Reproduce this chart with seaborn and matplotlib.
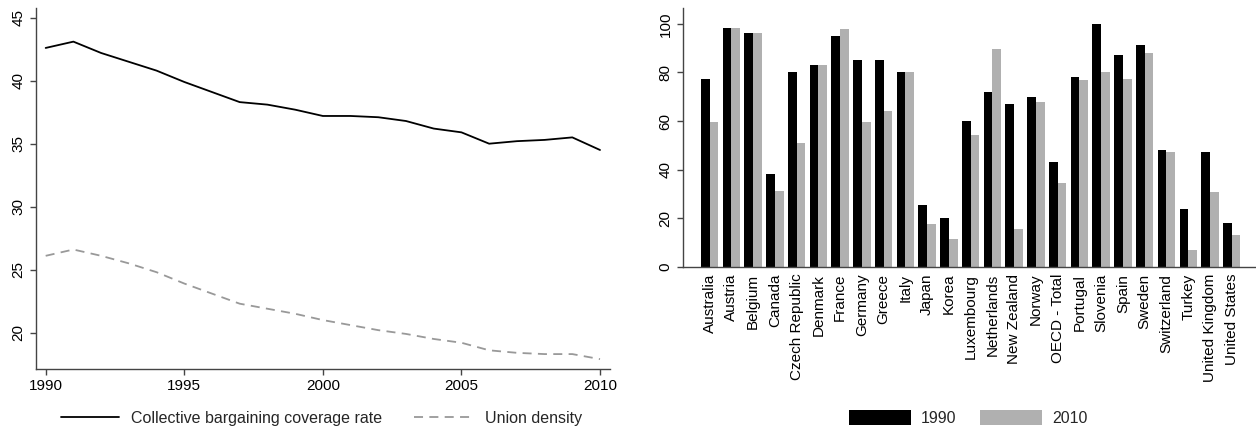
import matplotlib
matplotlib.use("Agg")
import matplotlib.pyplot as plt
import seaborn as sns
import pandas as pd

years = list(range(1990, 2011))
coverage = [42.6, 43.1, 42.2, 41.5, 40.8, 39.9, 39.1, 38.3, 38.1, 37.7, 37.2,
            37.2, 37.1, 36.8, 36.2, 35.9, 35.0, 35.2, 35.3, 35.5, 34.5]
density = [26.1, 26.6, 26.1, 25.5, 24.8, 23.9, 23.1, 22.3, 21.9, 21.5, 21.0,
           20.6, 20.2, 19.9, 19.5, 19.2, 18.6, 18.4, 18.3, 18.3, 17.9]

countries = ["Australia", "Austria", "Belgium", "Canada", "Czech Republic",
             "Denmark", "France", "Germany", "Greece", "Italy", "Japan",
             "Korea", "Luxembourg", "Netherlands", "New Zealand", "Norway",
             "OECD - Total", "Portugal", "Slovenia", "Spain", "Sweden",
             "Switzerland", "Turkey", "United Kingdom", "United States"]
cov_1990 = [77.3, 98.1, 96.2, 38.0, 80.2, 83.0, 95.0, 85.2, 85.2, 80.2, 25.5,
            20.1, 59.9, 72.0, 67.0, 70.0, 43.0, 78.2, 100.0, 87.1, 91.2,
            47.9, 23.9, 47.1, 18.1]
cov_2010 = [59.6, 98.1, 96.2, 31.3, 51.1, 83.0, 98.0, 59.8, 64.1, 80.2, 17.6,
            11.3, 54.3, 89.8, 15.4, 68.0, 34.6, 76.9, 80.2, 77.1, 88.2,
            47.3, 6.9, 30.8, 13.0]

sns.set_style("ticks")
plt.rcParams['font.family'] = ['Liberation Sans', 'DejaVu Sans']
plt.rcParams['font.size'] = 11

W, H = 1256, 430
fig = plt.figure(figsize=(W / 100, H / 100), dpi=100)

def px_axes(x0, y0, x1, y1):
    return fig.add_axes([x0 / W, 1 - y1 / H, (x1 - x0) / W, (y1 - y0) / H])

spine_col = "#444444"

# left panel: time series
ax1 = px_axes(35.7, 8, 610, 368.7)
sns.lineplot(x=years, y=coverage, color="black", lw=1.3, ax=ax1,
             label="Collective bargaining coverage rate")
sns.lineplot(x=years, y=density, color="#999999", lw=1.3, ax=ax1,
             label="Union density")
ax1.lines[1].set_dashes([5, 3.5])
ax1.set_xlim(1989.64, 2010.36)
ax1.set_ylim(17.14, 45.77)
ax1.set_xticks([1990, 1995, 2000, 2005, 2010])
ax1.set_yticks([20, 25, 30, 35, 40, 45])
h1, l1 = ax1.get_legend_handles_labels()
ax1.get_legend().remove()

# right panel: bars by country
df = pd.DataFrame({
    "country": countries * 2,
    "value": cov_1990 + cov_2010,
    "year": ["1990"] * len(countries) + ["2010"] * len(countries),
})
ax2 = px_axes(683, 8.3, 1255, 266.8)
sns.barplot(data=df, x="country", y="value", hue="year",
            palette=["black", "#b0b0b0"], saturation=1, width=0.8,
            edgecolor="none", ax=ax2)
ax2.set_xlim(-1.22, 25.07)
ax2.set_ylim(0, 106.4)
ax2.set_yticks([0, 20, 40, 60, 80, 100])
ax2.tick_params(axis="x", rotation=90, length=0, pad=5)
h2, l2 = ax2.get_legend_handles_labels()
ax2.get_legend().remove()

for ax in (ax1, ax2):
    ax.set_xlabel("")
    ax.set_ylabel("")
    sns.despine(ax=ax)
    for s in ("left", "bottom"):
        ax.spines[s].set_color(spine_col)
        ax.spines[s].set_linewidth(1.0)
    ax.tick_params(colors=spine_col, labelcolor="black", labelsize=11,
                   width=1.0, length=4)
    for t in ax.get_yticklabels():
        t.set_rotation(90)
        t.set_va("center")
ax2.tick_params(axis="x", length=0)

fig.legend(h1, l1, loc="center", bbox_to_anchor=(321.5 / W, 1 - 418 / H),
           ncol=2, frameon=False, fontsize=11.5, handlelength=3.6,
           handletextpad=0.8, columnspacing=2.0)
fig.legend(h2, l2, loc="center", bbox_to_anchor=(968 / W, 1 - 418 / H),
           ncol=2, frameon=False, fontsize=11.5, handlelength=3.9,
           handleheight=1.1, handletextpad=0.6, columnspacing=1.5)

fig.savefig("out.png", dpi=100, facecolor="white")
